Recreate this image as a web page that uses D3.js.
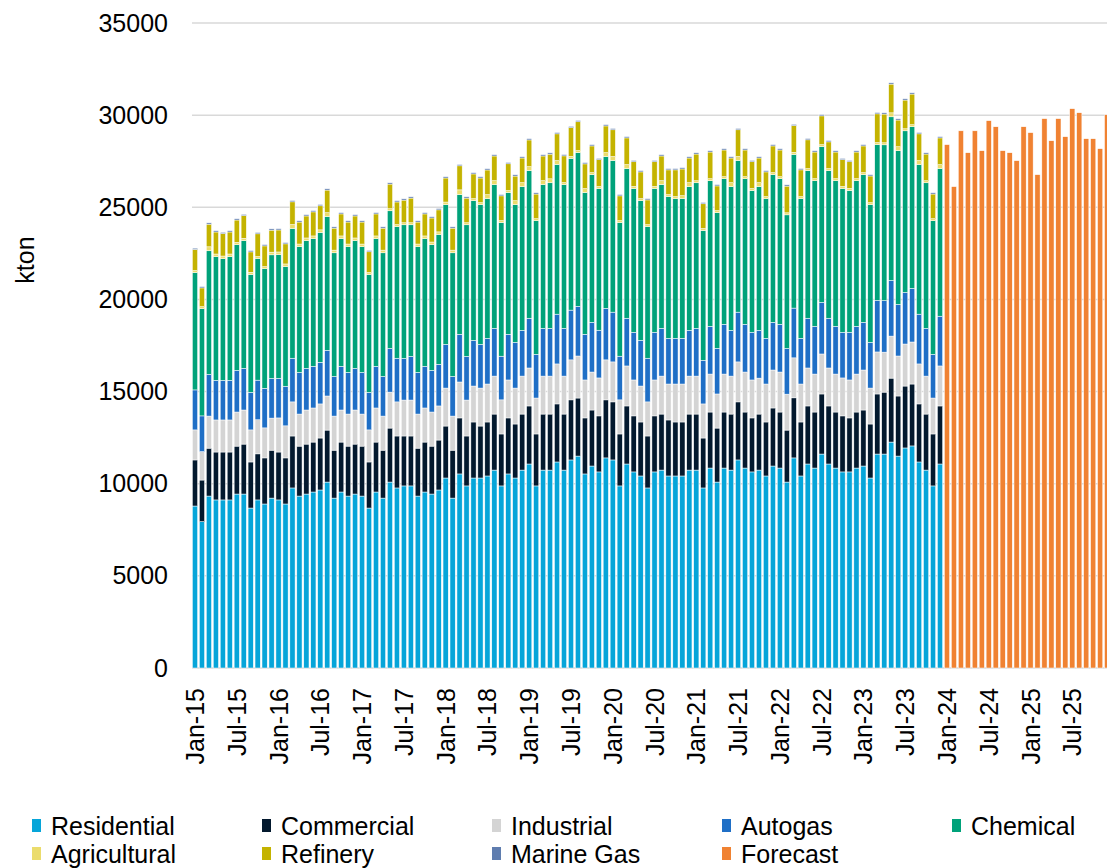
<!DOCTYPE html>
<html lang="en">
<head>
    <meta charset="UTF-8">
    <title>LPG demand by sector</title>
    <script src="https://d3js.org/d3.v7.min.js"></script>
    <style>
        body { margin: 0; background: #fff; }
        svg { display: block; font-family: "Liberation Sans", Arial, sans-serif; }
        .grid line { stroke: #d9d9d9; stroke-width: 1.5px; }
        text { fill: #000; }
    </style>
</head>
<body>
<svg></svg>
<script>
    const width = 1107;
    const height = 868;

    // monthly categories Jan-15 .. Dec-25
    const months = d3.timeMonth.range(new Date(2015, 0, 1), new Date(2026, 0, 1));

    // historical series, Jan-15 .. Dec-23 (kton), one row per year
    const residential = [
        8790, 7940, 9330, 9120, 9120, 9120, 9440, 9440, 8680, 9120, 8900, 9220,
        9120, 8900, 9770, 9330, 9440, 9550, 9660, 10090, 9220, 9550, 9330, 9440,
        9330, 8680, 9550, 9220, 10090, 9770, 9880, 9880, 9330, 9550, 9440, 9660,
        10310, 9220, 10530, 9880, 10310, 10310, 10420, 10740, 9880, 10530, 10310, 10740,
        11070, 9880, 10740, 10740, 11180, 10740, 11290, 11500, 10530, 10960, 10640, 11400,
        11290, 9880, 11070, 10640, 10420, 9770, 10640, 10740, 10420, 10420, 10420, 10740,
        10740, 9770, 10850, 10090, 10850, 10740, 11290, 10850, 10640, 10740, 10420, 10960,
        10850, 10090, 11400, 10420, 11070, 10850, 11610, 11070, 10850, 10640, 10640, 10850,
        10960, 10310, 11610, 11610, 12260, 11500, 11940, 12050, 11180, 10740, 9880, 11070
    ];
    const commercial = [
        2500, 2260, 2600, 2600, 2600, 2600, 2600, 2710, 2500, 2500, 2500, 2600,
        2600, 2500, 2820, 2710, 2710, 2710, 2820, 2820, 2600, 2710, 2710, 2710,
        2710, 2500, 2710, 2600, 2930, 2820, 2710, 2710, 2600, 2710, 2600, 2710,
        2820, 2600, 3040, 2710, 3040, 2820, 2930, 3040, 2820, 3040, 2930, 3040,
        3150, 2820, 3040, 3040, 3150, 3040, 3260, 3150, 3040, 3040, 3040, 3150,
        3150, 2820, 3150, 3040, 2930, 2820, 3040, 3040, 3040, 2930, 2930, 3040,
        3040, 2710, 3040, 2930, 3040, 3040, 3150, 3040, 2930, 3040, 2930, 3150,
        3040, 2820, 3260, 2930, 3150, 3040, 3260, 3150, 3040, 3040, 2930, 3040,
        3040, 2930, 3260, 3360, 3470, 3260, 3360, 3360, 3150, 3040, 2820, 3150
    ];
    const industrial = [
        1630, 1540, 1740, 1740, 1740, 1740, 1850, 1850, 1740, 1850, 1630, 1740,
        1850, 1740, 1850, 1740, 1850, 1850, 1850, 1850, 1850, 1740, 1740, 1850,
        1740, 1740, 1850, 1850, 1950, 1850, 1950, 1950, 1850, 1850, 1850, 1850,
        2060, 1850, 1950, 1950, 1950, 2060, 2060, 2060, 1850, 2060, 1950, 2060,
        2060, 1950, 2060, 2060, 2170, 2060, 2170, 2280, 2060, 2060, 2060, 2170,
        2170, 1850, 2170, 1950, 1950, 1850, 1950, 2060, 1950, 2060, 2060, 2060,
        2060, 1850, 2060, 1850, 2060, 2060, 2170, 2170, 2060, 1950, 2060, 2060,
        2170, 1950, 2170, 2060, 2060, 2060, 2170, 2060, 2060, 2060, 2060, 2060,
        2170, 1950, 2280, 2170, 2280, 2170, 2280, 2280, 2170, 2060, 1950, 2170
    ];
    const autogas = [
        2170, 1940, 2260, 2150, 2150, 2150, 2260, 2260, 2040, 2150, 2150, 2150,
        2150, 2150, 2370, 2260, 2260, 2260, 2260, 2480, 2150, 2370, 2260, 2260,
        2260, 2040, 2260, 2150, 2370, 2370, 2260, 2370, 2260, 2260, 2260, 2260,
        2370, 2150, 2590, 2370, 2480, 2370, 2480, 2590, 2370, 2480, 2480, 2480,
        2700, 2370, 2590, 2590, 2700, 2590, 2700, 2700, 2480, 2700, 2590, 2800,
        2700, 2370, 2590, 2590, 2480, 2370, 2590, 2590, 2480, 2480, 2480, 2480,
        2590, 2370, 2590, 2480, 2700, 2480, 2700, 2590, 2590, 2590, 2480, 2590,
        2590, 2480, 2700, 2480, 2700, 2590, 2800, 2700, 2590, 2480, 2590, 2590,
        2590, 2480, 2800, 2800, 3020, 2800, 2800, 2910, 2700, 2590, 2370, 2700
    ];
    const chemical = [
        6370, 5820, 6710, 6710, 6600, 6710, 6820, 6930, 6390, 6600, 6490, 6710,
        6710, 6490, 7040, 6820, 6930, 6930, 7040, 7250, 6710, 6930, 6820, 6930,
        6820, 6390, 6930, 6710, 7470, 7140, 7250, 7140, 6820, 6930, 6820, 7040,
        7580, 6710, 7580, 7140, 7580, 7580, 7580, 7800, 7250, 7690, 7470, 7800,
        8010, 7250, 7800, 7900, 8120, 7800, 8230, 8340, 7690, 8010, 7690, 8230,
        8230, 7250, 8120, 7800, 7580, 7140, 7800, 7800, 7690, 7580, 7580, 7800,
        7900, 7040, 7900, 7360, 7900, 7800, 8230, 7900, 7690, 7800, 7580, 8010,
        7900, 7250, 8340, 7580, 8010, 7900, 8450, 8010, 7900, 7800, 7690, 7900,
        8010, 7470, 8450, 8450, 8880, 8340, 8770, 8770, 8120, 7900, 7250, 8010
    ];
    const agricultural = [
        110, 110, 215, 145, 145, 145, 125, 125, 125, 110, 110, 145,
        145, 145, 215, 145, 145, 145, 145, 215, 145, 145, 145, 145,
        145, 110, 145, 145, 110, 110, 110, 110, 145, 145, 145, 145,
        145, 145, 255, 110, 110, 110, 215, 215, 110, 110, 215, 215,
        215, 110, 215, 215, 215, 110, 110, 110, 215, 110, 110, 215,
        215, 110, 215, 110, 110, 110, 110, 215, 110, 110, 160, 215,
        110, 110, 110, 110, 110, 215, 215, 110, 110, 215, 110, 110,
        110, 110, 110, 110, 110, 110, 110, 110, 110, 110, 110, 110,
        110, 110, 110, 110, 215, 215, 110, 110, 215, 110, 110, 215
    ];
    const refinery = [
        1140, 1015, 1230, 1195, 1215, 1195, 1215, 1230, 1105, 1230, 1125, 1195,
        1195, 1090, 1230, 1195, 1195, 1305, 1305, 1230, 1195, 1195, 1195, 1195,
        1195, 1125, 1195, 1195, 1340, 1230, 1230, 1340, 1195, 1195, 1305, 1195,
        1305, 1195, 1305, 1340, 1340, 1340, 1340, 1340, 1340, 1450, 1340, 1340,
        1450, 1340, 1340, 1340, 1450, 1450, 1560, 1560, 1340, 1450, 1450, 1450,
        1450, 1340, 1450, 1340, 1450, 1340, 1340, 1340, 1340, 1450, 1450, 1340,
        1450, 1340, 1450, 1340, 1450, 1340, 1450, 1450, 1450, 1340, 1340, 1450,
        1450, 1450, 1450, 1450, 1560, 1450, 1560, 1450, 1450, 1450, 1450, 1450,
        1450, 1450, 1560, 1560, 1560, 1450, 1560, 1665, 1450, 1450, 1340, 1450
    ];
    const marineGas = [
        70, 70, 70, 70, 70, 70, 70, 70, 70, 70, 70, 70,
        70, 70, 70, 70, 70, 70, 70, 70, 70, 70, 70, 70,
        70, 70, 70, 70, 70, 70, 70, 70, 70, 70, 70, 70,
        70, 70, 70, 70, 70, 70, 70, 70, 70, 70, 70, 70,
        70, 70, 70, 70, 70, 70, 70, 70, 70, 70, 70, 70,
        70, 70, 70, 70, 70, 70, 70, 70, 70, 70, 70, 70,
        70, 70, 70, 70, 70, 70, 70, 70, 70, 70, 70, 70,
        70, 70, 70, 70, 70, 70, 70, 70, 70, 70, 70, 70,
        70, 70, 70, 70, 70, 70, 70, 70, 70, 70, 70, 70
    ];
    // forecast, Jan-24 .. Dec-25 (total kton)
    const forecast = [
        28400, 26120, 29150, 27960, 29150, 28070, 29700, 29370, 28070, 27960, 27530, 29370,
        29050, 26770, 29810, 28610, 29810, 28830, 30350, 30130, 28720, 28720, 28180, 30020
    ];

    const yTicks = [0, 5000, 10000, 15000, 20000, 25000, 30000, 35000];

    const series = [
        { key: "Residential", values: residential, color: "#06a5d9" },
        { key: "Commercial", values: commercial, color: "#03192e" },
        { key: "Industrial", values: industrial, color: "#d4d4d4" },
        { key: "Autogas", values: autogas, color: "#1f6fc6" },
        { key: "Chemical", values: chemical, color: "#00a27a" },
        { key: "Agricultural", values: agricultural, color: "#ebdc6c" },
        { key: "Refinery", values: refinery, color: "#c4b300" },
        { key: "Marine Gas", values: marineGas, color: "#5f7daf" },
        { key: "Forecast", values: null, color: "#f08232" }
    ];

    const nHist = residential.length;

    // table for d3.stack: one row per month
    const table = months.map((m, i) => {
        const row = { date: m, i: i };
        series.forEach(s => {
            if (s.key === "Forecast") row[s.key] = i >= nHist ? forecast[i - nHist] : 0;
            else row[s.key] = i < nHist ? s.values[i] : 0;
        });
        return row;
    });

    const keys = series.map(s => s.key);
    const stacked = d3.stack().keys(keys)(table);

    const svg = d3.select("svg")
        .attr("width", width)
        .attr("height", height);

    const x = d3.scaleBand()
        .domain(d3.range(months.length))
        .range([191.5, 1110.6])
        .paddingInner(0.25)
        .paddingOuter(0.125);

    const y = d3.scaleLinear()
        .domain([0, 35000])
        .range([668, 23]);

    // gridlines
    svg.append("g")
        .attr("class", "grid")
        .selectAll("line")
        .data(yTicks)
        .enter().append("line")
        .attr("x1", 192)
        .attr("x2", width)
        .attr("y1", d => y(d))
        .attr("y2", d => y(d));

    // y axis labels
    const yAxis = d3.axisLeft(y)
        .tickValues(yTicks)
        .tickFormat(d3.format("d"))
        .tickSize(0)
        .tickPadding(0);
    svg.append("g")
        .attr("transform", "translate(168,0)")
        .call(yAxis)
        .call(g => g.select(".domain").remove())
        .selectAll("text")
        .attr("font-size", 25)
        .attr("font-family", "Liberation Sans, Arial, sans-serif")
        .attr("fill", "#000");

    svg.append("text")
        .attr("transform", "translate(25,260) rotate(-90)")
        .attr("text-anchor", "middle")
        .attr("dy", "0.35em")
        .attr("font-size", 25)
        .text("kton");

    // bars
    const layer = svg.append("g")
        .selectAll("g")
        .data(stacked)
        .enter().append("g")
        .attr("fill", d => series.find(s => s.key === d.key).color);

    layer.selectAll("rect")
        .data(d => d.filter(p => p[1] - p[0] > 0))
        .enter().append("rect")
        .attr("x", d => x(d.data.i))
        .attr("width", x.bandwidth())
        .attr("y", d => y(d[1]))
        .attr("height", d => y(d[0]) - y(d[1]))
        .attr("stroke", "#fff")
        .attr("stroke-width", 0.5);

    // x axis labels every 6 months
    const fmt = d3.timeFormat("%b-%y");
    const xAxis = d3.axisBottom(x)
        .tickValues(d3.range(0, months.length, 6))
        .tickFormat(i => fmt(months[i]))
        .tickSize(0)
        .tickPadding(0);

    svg.append("g")
        .attr("transform", "translate(0,668)")
        .call(xAxis)
        .call(g => g.select(".domain").remove())
        .selectAll("text")
        .attr("font-size", 25)
        .attr("font-family", "Liberation Sans, Arial, sans-serif")
        .attr("fill", "#000")
        .attr("transform", "rotate(-90)")
        .attr("text-anchor", "end")
        .attr("x", -20)
        .attr("y", 0)
        .attr("dy", "0.36em");

    // legend, two rows of five columns
    const legend = svg.append("g")
        .selectAll("g")
        .data(series)
        .enter().append("g")
        .attr("transform", (d, i) => `translate(${32 + (i % 5) * 230},${i < 5 ? 826 : 854})`);

    legend.append("rect")
        .attr("x", 0)
        .attr("y", -7)
        .attr("width", 9)
        .attr("height", 13)
        .attr("fill", d => d.color);

    legend.append("text")
        .attr("x", 19)
        .attr("y", 0)
        .attr("dy", "0.35em")
        .attr("font-size", 25)
        .text(d => d.key);
</script>
</body>
</html>
